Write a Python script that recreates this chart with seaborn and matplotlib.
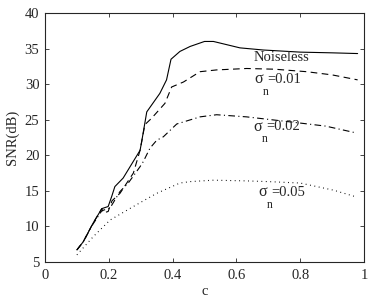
import matplotlib
matplotlib.use("Agg")
import matplotlib.pyplot as plt
import seaborn as sns
import pandas as pd

# Data
c_noiseless = [0.10, 0.12, 0.15, 0.178, 0.198, 0.209, 0.219, 0.245, 0.298, 0.303, 0.319,
               0.36, 0.381, 0.395, 0.423, 0.455, 0.50, 0.528, 0.611, 0.684, 0.80, 0.90, 0.98]
snr_noiseless = [6.7, 7.85, 10.4, 12.5, 12.8, 14.2, 15.6, 16.8, 20.7, 21.9, 26.1,
                 28.7, 30.6, 33.5, 34.6, 35.3, 36.0, 36.0, 35.1, 34.8, 34.5, 34.4, 34.3]

c_s001 = [0.10, 0.12, 0.15, 0.178, 0.183, 0.198, 0.21, 0.235, 0.277, 0.298, 0.313, 0.334,
          0.376, 0.397, 0.434, 0.486, 0.538, 0.632, 0.72, 0.82, 0.90, 0.98]
snr_s001 = [6.7, 7.85, 10.4, 12.5, 11.9, 12.1, 13.6, 14.65, 17.5, 20.7, 24.3, 25.2,
            27.3, 29.6, 30.3, 31.75, 32.0, 32.2, 32.1, 31.75, 31.3, 30.6]

c_s002 = [0.10, 0.12, 0.15, 0.178, 0.204, 0.235, 0.261, 0.298, 0.308, 0.329, 0.35, 0.371,
          0.413, 0.486, 0.538, 0.632, 0.768, 0.88, 0.97]
snr_s002 = [6.7, 7.85, 10.3, 12.2, 12.6, 14.9, 16.1, 18.4, 19.1, 21.0, 22.1, 22.6,
            24.4, 25.4, 25.7, 25.4, 24.7, 24.1, 23.2]

c_s005 = [0.10, 0.151, 0.204, 0.277, 0.35, 0.423, 0.455, 0.528, 0.632, 0.70, 0.80, 0.904, 0.972]
snr_s005 = [6.0, 8.55, 10.9, 12.8, 14.65, 16.1, 16.3, 16.5, 16.4, 16.3, 16.1, 15.1, 14.2]

x_ticks = [0, 0.2, 0.4, 0.6, 0.8, 1]
x_ticklabels = ["0", "0.2", "0.4", "0.6", "0.8", "1"]
y_ticks = [5, 10, 15, 20, 25, 30, 35, 40]

noise_labels = ["=0.01", "=0.02", "=0.05"]
noise_label_pos = [(0.655, 30.7), (0.652, 24.0), (0.668, 14.8)]

sns.set_style("ticks")
plt.rcParams['font.family'] = ['Liberation Serif', 'DejaVu Serif']

fig = plt.figure(figsize=(3.73, 3.0), dpi=100)
ax = fig.add_axes([45/373, 1-262/300, (364-45)/373, (262-13)/300])

series = [
    (c_noiseless, snr_noiseless, dict(linestyle='-')),
    (c_s001, snr_s001, dict(dashes=(6, 4))),
    (c_s002, snr_s002, dict(dashes=(6, 3, 1, 3))),
    (c_s005, snr_s005, dict(dashes=(0.8, 3.2))),
]
for cx, sy, style in series:
    df = pd.DataFrame({"c": cx, "snr": sy})
    sns.lineplot(data=df, x="c", y="snr", ax=ax, color='black', lw=0.8,
                 sort=False, estimator=None, **style)

ax.set_xlim(0, 1)
ax.set_ylim(5, 40)
ax.set_xticks(x_ticks)
ax.set_xticklabels(x_ticklabels)
ax.set_yticks(y_ticks)
ax.tick_params(direction='in', top=True, right=True, labelsize=10.5, length=3, width=0.6)
ax.tick_params(axis='x', pad=5)
ax.tick_params(axis='y', pad=4)
for sp in ax.spines.values():
    sp.set_linewidth(0.8)
ax.set_xlabel("c", fontsize=10.5, labelpad=2)
ax.set_ylabel("SNR(dB)", fontsize=10.5, labelpad=4)

fs = 10.5
ax.text(0.655, 33.7, "Noiseless", fontsize=fs, va='center', ha='left')
for lab, (cx, cy) in zip(noise_labels, noise_label_pos):
    ax.annotate("\u03c3", (cx, cy), fontsize=11.5, va='center', ha='left')
    ax.annotate("n", (cx, cy), xytext=(6.0, -9.0), textcoords='offset points',
                fontsize=8.5, va='center', ha='left')
    ax.annotate(lab, (cx, cy), xytext=(9.4, 0), textcoords='offset points',
                fontsize=fs, va='center', ha='left')

fig.savefig("out.png", dpi=100)
